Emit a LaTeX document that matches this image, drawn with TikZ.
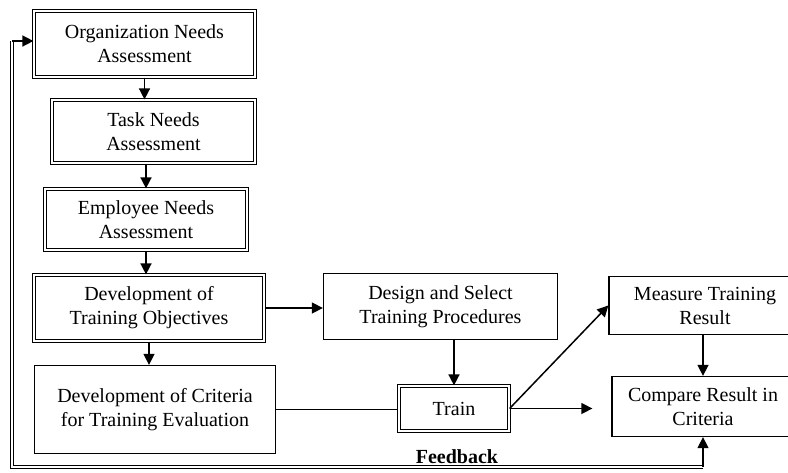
\documentclass[tikz,border=0pt]{standalone}
\usepackage{fontspec}
\setmainfont{Liberation Serif}
\usetikzlibrary{arrows.meta}

\begin{document}
\begin{tikzpicture}[x=1pt, y=-1pt,
    every node/.style={align=center, inner sep=0pt, font=\fontsize{20}{24}\selectfont},
    dbox/.style={draw, double, double distance=1.8pt, line width=1.2pt},
    sbox/.style={draw, line width=1.3pt},
    arr/.style={line width=1.5pt, -{Triangle[length=11pt, width=11pt]}},
    fbline/.style={double, double distance=2pt, line width=1.3pt}]
  \path[clip] (0,0) rectangle (788,472);

  % left column
  \node[dbox, minimum width=221, minimum height=66] (org) at (144.5,44) {Organization Needs\\Assessment};
  \node[dbox, minimum width=203, minimum height=63] (task) at (153.5,131.5) {Task Needs\\Assessment};
  \node[dbox, minimum width=202, minimum height=61] (employee) at (146,219.5) {Employee Needs\\Assessment};
  \node[dbox, minimum width=230, minimum height=66] (objectives) at (149,308) {Development of\\Training Objectives};
  \node[sbox, minimum width=241, minimum height=88] (criteria) at (155,409.5) {Development of Criteria\\for Training Evaluation};

  % middle and right
  \node[sbox, minimum width=234, minimum height=66] (design) at (440.5,306.5) {Design and Select\\Training Procedures};
  \node[dbox, minimum width=110, minimum height=45] (train) at (454,408.5) {Train};
  \node[sbox, minimum width=192, minimum height=58] (measure) at (705,305.5) {Measure Training\\Result};
  \node[sbox, minimum width=182, minimum height=60] (compare) at (703,406.5) {Compare Result in\\Criteria};
  \node[font=\fontsize{20}{24}\selectfont\bfseries] (feedback) at (457,457) {Feedback};

  \draw[arr] (org.south) -- (org.south |- task.north);
  \draw[arr] (employee.north |- task.south) -- (employee.north);
  \draw[arr] (employee.south) -- (employee.south |- objectives.north);
  \draw[arr] (objectives.south) -- (objectives.south |- criteria.north);
  \draw[arr] (objectives.east) -- (objectives.east -| design.west);
  \draw[arr] (train.north |- design.south) -- (train.north);
  \draw[line width=1.5pt] (criteria.east) -- (criteria.east -| train.west);
  \draw[arr, shorten >=19pt] (train.east) -- (train.east -| compare.west);
  \draw[arr] (train.east) -- (measure.west);
  \draw[arr] (compare.north |- measure.south) -- (compare.north);

  % feedback loop
  \coordinate (fbright) at (703,467);
  \coordinate (fbleft) at (12,467);
  \coordinate (fbtop) at (12,41);
  \draw[fbline] (fbright) -- (fbleft) -- (fbtop);
  \draw[arr] (fbtop) -- (fbtop -| org.west);
  \draw[arr] (fbright) -- (compare.south);
\end{tikzpicture}
\end{document}
